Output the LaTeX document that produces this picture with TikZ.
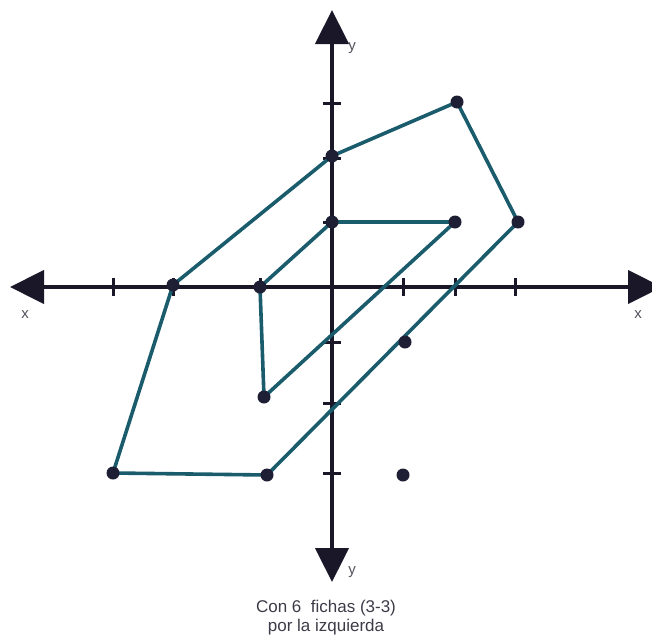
\documentclass[tikz,border=0pt]{standalone}
\usepackage{fontspec}
\setmainfont{Liberation Sans}
\usetikzlibrary{arrows.meta}
\definecolor{axisink}{RGB}{26,24,40}
\definecolor{fichaline}{RGB}{26,92,108}
\definecolor{dotink}{RGB}{30,30,52}

\begin{document}
\begin{tikzpicture}[x=1pt, y=-1pt,
    axis/.style={line width=4.5pt, draw=axisink},
    bigtip/.style={{Triangle[length=34pt, width=33pt]}-{Triangle[length=34pt, width=33pt]}},
    tickmark/.style={line width=3pt, draw=axisink},
    ficha/.style={line width=3.6pt, draw=fichaline, line join=round},
    dot/.style={circle, fill=dotink, inner sep=0pt, minimum size=13pt},
    lbl/.style={font=\fontsize{15}{15}\selectfont, text=axisink!75}]
  \useasboundingbox (0,0) rectangle (652,643);
  \coordinate (xl) at (10,287);
  \coordinate (xr) at (662,287);
  \coordinate (yt) at (332,10);
  \coordinate (yb) at (332,582);
  \draw[axis, bigtip] (xl) -- (xr);
  \draw[axis, bigtip] (yt) -- (yb);
  \foreach \t in {113,173,260,403,455,515}
    \draw[tickmark] (\t,278) -- (\t,296);
  \foreach \t in {103,158,222,342,403,473}
    \draw[tickmark] (323,\t) -- (341,\t);
  \node[lbl] (xleft) at (25,315) {x};
  \node[lbl] (xright) at (638,315) {x};
  \node[lbl] (ytop) at (352,48) {y};
  \node[lbl] (ybot) at (352,572) {y};
  % outer figure
  \coordinate (a1) at (173,285);
  \coordinate (a2) at (332,156);
  \coordinate (a3) at (457,102);
  \coordinate (a4) at (518,222);
  \coordinate (a5) at (267,475);
  \coordinate (a6) at (113,473);
  \draw[ficha] (a1) -- (a2) -- (a3) -- (a4) -- (a5) -- (a6) -- cycle;
  % inner figure
  \coordinate (b1) at (260,287);
  \coordinate (b2) at (332,222);
  \coordinate (b3) at (455,222);
  \coordinate (b4) at (264,397);
  \draw[ficha] (b1) -- (b2) -- (b3) -- (b4) -- cycle;
  \coordinate (c1) at (405,342);
  \coordinate (c2) at (403,475);
  \foreach \p in {a1,a2,a3,a4,a5,a6,b1,b2,b3,b4,c1,c2}
    \node[dot] at (\p) {};
  \node[font=\fontsize{17}{19}\selectfont, align=center, text=axisink!85] (caption) at (326,618)
    {Con 6\ \ fichas (3-3)\\por la izquierda};
\end{tikzpicture}
\end{document}
